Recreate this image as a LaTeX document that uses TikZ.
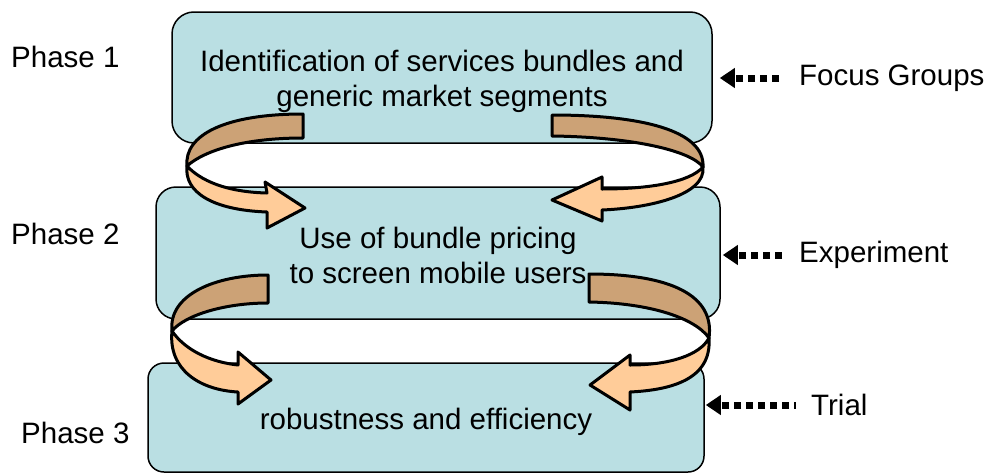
\documentclass[tikz,border=0pt]{standalone}
\usepackage{fontspec}
\setmainfont{Liberation Sans}
\usetikzlibrary{arrows.meta}
\definecolor{boxfill}{HTML}{BADFE3}
\definecolor{ribbondark}{HTML}{CCA276}
\definecolor{ribbonlight}{HTML}{FFCC99}
\begin{document}
\begin{tikzpicture}[x=1pt,y=-1pt,
  phasebox/.style={draw=black, line width=1.5pt, fill=boxfill, rounded corners=#1, inner sep=0pt},
  boxtext/.style={align=center, inner sep=0pt, font=\fontsize{29.5}{35}\selectfont},
  phaselabel/.style={anchor=west, inner sep=0pt, font=\fontsize{29.5}{35}\selectfont},
  sidelabel/.style={anchor=west, inner sep=0pt, font=\fontsize{29.5}{35}\selectfont},
  ribbonedge/.style={draw=black, line width=3pt, line join=round},
  darkpart/.style={ribbonedge, fill=ribbondark},
  lightpart/.style={ribbonedge, fill=ribbonlight},
  dotarrow/.style={line width=7pt, dash pattern=on 7pt off 5pt, dash phase=#1,
    -{Triangle[length=15pt,width=19pt]}}
]
\useasboundingbox (0,0) rectangle (992,474);

% boxes
\node[phasebox=22pt, minimum width=540pt, minimum height=131pt] (box1) at (442,77.5) {};
\node[phasebox=20pt, minimum width=564pt, minimum height=132pt] (box2) at (438,253) {};
\node[phasebox=16pt, minimum width=556pt, minimum height=109pt] (box3) at (426,417.5) {};

\node[boxtext] (t1) at ([yshift=-3.5pt]box1.center)
  {Identification of services bundles and\\generic market segments};
\node[boxtext] (t2) at ([yshift=-2.5pt]box2.center)
  {Use of bundle pricing\\to screen mobile users};
\node[boxtext] (t3) at ([yshift=-4pt]box3.center) {robustness and efficiency};

% phase labels
\node[phaselabel] (p1) at (11,57) {Phase 1};
\node[phaselabel] (p2) at (11,234) {Phase 2};
\node[phaselabel] (p3) at (21,433) {Phase 3};

% curved ribbon arrows, phase 1 -> 2
\path[darkpart] (303,114) -- (303,138) .. controls (245,138) and (205,150) .. (187,166)
  .. controls (184,135) and (225,114) .. (303,114) -- cycle;
\path[lightpart] (187,166) .. controls (184,192) and (212,210) .. (267,212)
  -- (267,228) -- (305,208) -- (265,182) -- (267,193)
  .. controls (225,192) and (200,180) .. (187,166) -- cycle;

\path[darkpart] (552,115) .. controls (640,115) and (705,130) .. (703,167)
  .. controls (690,150) and (630,137) .. (552,136) -- cycle;
\path[lightpart] (703,167) .. controls (706,195) and (650,208) .. (602,210)
  -- (602,221) -- (552,200) -- (602,177) -- (602,189)
  .. controls (650,189) and (690,182) .. (703,167) -- cycle;

% curved ribbon arrows, phase 2 -> 3
\path[darkpart] (268,275) -- (268,303) .. controls (225,303) and (185,315) .. (172,331)
  .. controls (168,295) and (215,275) .. (268,275) -- cycle;
\path[lightpart] (172,331) .. controls (168,370) and (200,390) .. (238,392)
  -- (238,404) -- (271,380) -- (238,352) -- (238,365)
  .. controls (210,362) and (185,350) .. (172,331) -- cycle;

\path[darkpart] (589,274) .. controls (670,274) and (715,295) .. (709,338)
  .. controls (695,318) and (650,303) .. (589,302) -- cycle;
\path[lightpart] (709,338) .. controls (712,380) and (670,390) .. (630,392)
  -- (630,410) -- (590,385) -- (630,355) -- (630,365)
  .. controls (670,365) and (700,355) .. (709,338) -- cycle;

% side labels and dotted arrows
\node[sidelabel] (fg) at (799,78) {Focus Groups};
\node[sidelabel] (ex) at (799,255) {Experiment};
\node[sidelabel] (tr) at (811,405) {Trial};

\draw[dotarrow=7pt, shorten <=15pt, shorten >=7pt] (fg.west) -- (fg.west -| box1.east);
\draw[dotarrow=10pt, shorten <=15pt, shorten >=2pt] (ex.west) -- (ex.west -| box2.east);
\draw[dotarrow=5pt, shorten <=15pt, shorten >=1pt] (tr.west) -- (tr.west -| box3.east);
\end{tikzpicture}
\end{document}
